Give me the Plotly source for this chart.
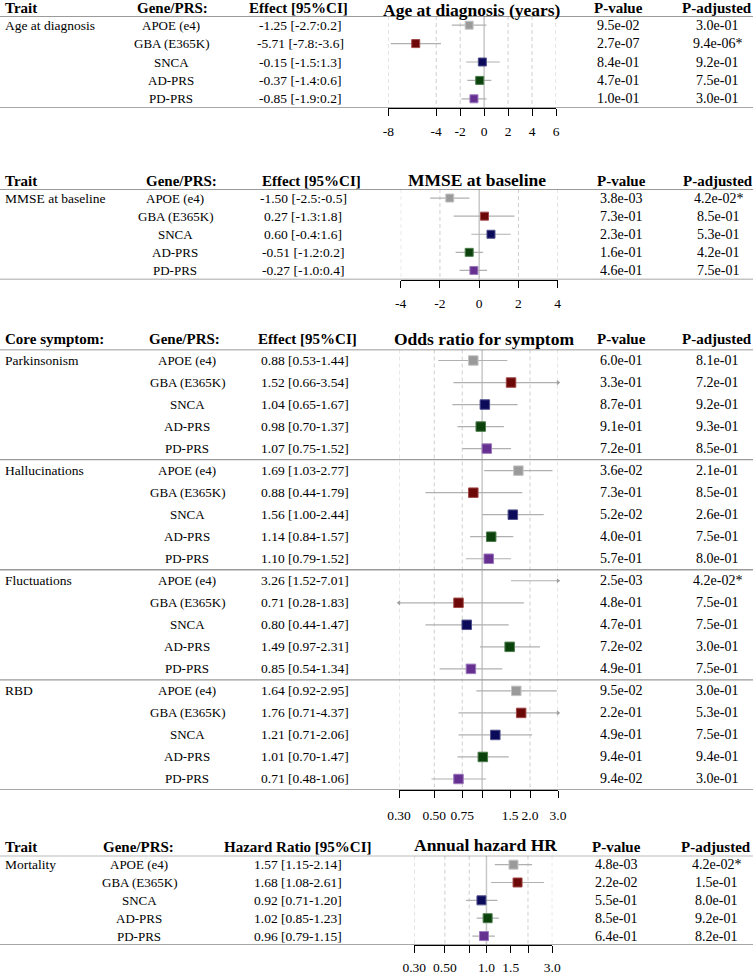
import math
import plotly.graph_objects as go

W, H = 753, 976
FONT = "Liberation Serif"

# ---------------- data ----------------
genes = ["APOE (e4)", "GBA (E365K)", "SNCA", "AD-PRS", "PD-PRS"]
gene_colors = ["#9a9a9a", "#6c0808", "#0b0b5a", "#0b420b", "#663090"]
gene_borders = ["#c4c4c4", "#a04848", "#50508c", "#4c7c4c", "#9c78bc"]

# Panel 1: Age at diagnosis (years)
age_est = [-1.25, -5.71, -0.15, -0.37, -0.85]
age_lo = [-2.7, -7.8, -1.5, -1.4, -1.9]
age_hi = [0.2, -3.6, 1.3, 0.6, 0.2]
age_p = ["9.5e-02", "2.7e-07", "8.4e-01", "4.7e-01", "1.0e-01"]
age_padj = ["3.0e-01", "9.4e-06*", "9.2e-01", "7.5e-01", "3.0e-01"]

# Panel 2: MMSE at baseline
mmse_est = [-1.50, 0.27, 0.60, -0.51, -0.27]
mmse_lo = [-2.5, -1.3, -0.4, -1.2, -1.0]
mmse_hi = [-0.5, 1.8, 1.6, 0.2, 0.4]
mmse_p = ["3.8e-03", "7.3e-01", "2.3e-01", "1.6e-01", "4.6e-01"]
mmse_padj = ["4.2e-02*", "8.5e-01", "5.3e-01", "4.2e-01", "7.5e-01"]

# Panel 3: Odds ratio for core symptoms
symptoms = ["Parkinsonism", "Hallucinations", "Fluctuations", "RBD"]
park_est = [0.88, 1.52, 1.04, 0.98, 1.07]
park_lo = [0.53, 0.66, 0.65, 0.70, 0.75]
park_hi = [1.44, 3.54, 1.67, 1.37, 1.52]
park_p = ["6.0e-01", "3.3e-01", "8.7e-01", "9.1e-01", "7.2e-01"]
park_padj = ["8.1e-01", "7.2e-01", "9.2e-01", "9.3e-01", "8.5e-01"]

hall_est = [1.69, 0.88, 1.56, 1.14, 1.10]
hall_lo = [1.03, 0.44, 1.00, 0.84, 0.79]
hall_hi = [2.77, 1.79, 2.44, 1.57, 1.52]
hall_p = ["3.6e-02", "7.3e-01", "5.2e-02", "4.0e-01", "5.7e-01"]
hall_padj = ["2.1e-01", "8.5e-01", "2.6e-01", "7.5e-01", "8.0e-01"]

fluc_est = [3.26, 0.71, 0.80, 1.49, 0.85]
fluc_lo = [1.52, 0.28, 0.44, 0.97, 0.54]
fluc_hi = [7.01, 1.83, 1.47, 2.31, 1.34]
fluc_p = ["2.5e-03", "4.8e-01", "4.7e-01", "7.2e-02", "4.9e-01"]
fluc_padj = ["4.2e-02*", "7.5e-01", "7.5e-01", "3.0e-01", "7.5e-01"]

rbd_est = [1.64, 1.76, 1.21, 1.01, 0.71]
rbd_lo = [0.92, 0.71, 0.71, 0.70, 0.48]
rbd_hi = [2.95, 4.37, 2.06, 1.47, 1.06]
rbd_p = ["9.5e-02", "2.2e-01", "4.9e-01", "9.4e-01", "9.4e-02"]
rbd_padj = ["3.0e-01", "5.3e-01", "7.5e-01", "9.4e-01", "3.0e-01"]

# Panel 4: Annual hazard HR (mortality)
mort_est = [1.57, 1.68, 0.92, 1.02, 0.96]
mort_lo = [1.15, 1.08, 0.71, 0.85, 0.79]
mort_hi = [2.14, 2.61, 1.20, 1.23, 1.15]
mort_p = ["4.8e-03", "2.2e-02", "5.5e-01", "8.5e-01", "6.4e-01"]
mort_padj = ["4.2e-02*", "1.5e-01", "8.0e-01", "9.2e-01", "8.2e-01"]

lin1_ticks = [-8, -4, -2, 0, 2, 4, 6]
lin1_grid = [-8, -4, -2, 2, 4, 6]
lin2_ticks = [-4, -2, 0, 2, 4]
lin2_grid = [-4, -2, 2, 4]
or_ticks = [0.30, 0.50, 0.75, 1.0, 1.5, 2.0, 3.0]
or_ticktext = ["0.30", "0.50", "0.75", "", "1.5", "2.0", "3.0"]
or_grid = [0.30, 0.50, 0.75, 2.0, 3.0]
hr_ticks = [0.30, 0.50, 0.75, 1.0, 1.5, 2.0, 3.0]
hr_ticktext = ["0.30", "0.50", "", "1.0", "1.5", "", "3.0"]
hr_grid = [0.30, 0.50, 0.75, 2.0, 3.0]


def fmt_lin(e, l, h):
    return f"{e:.2f} [{l:.1f}:{h:.1f}]"


def fmt_ratio(e, l, h):
    return f"{e:.2f} [{l:.2f}-{h:.2f}]"


panels = [
    dict(title="Age at diagnosis (years)", trait_hdr="Trait", eff_label="Effect [95%CI]",
         groups=[("Age at diagnosis", age_est, age_lo, age_hi, age_p, age_padj)],
         fmt=fmt_lin, log=False, ref=0, ticks=lin1_ticks, ticktext=[str(t) for t in lin1_ticks],
         grid=lin1_grid, rng=(-8, 6),
         top=16, bottom=108, x0=388.3, x1=556, hdr_y=8.5, title_y=9.5, title_x=472,
         gene_hdr=172, gene_x=171, eff_hdr=298, eff_x=300, p_x=618, padj_x=717,
         msize=8, standoff=4),
    dict(title="MMSE at baseline", trait_hdr="Trait", eff_label="Effect [95%CI]",
         groups=[("MMSE at baseline", mmse_est, mmse_lo, mmse_hi, mmse_p, mmse_padj)],
         fmt=fmt_lin, log=False, ref=0, ticks=lin2_ticks, ticktext=[str(t) for t in lin2_ticks],
         grid=lin2_grid, rng=(-4, 4),
         top=189, bottom=279.5, x0=400.7, x1=557.7, hdr_y=181, title_y=180.5, title_x=477,
         gene_hdr=181, gene_x=175, eff_hdr=311, eff_x=303, p_x=621, padj_x=718,
         msize=8, standoff=4),
    dict(title="Odds ratio for symptom", trait_hdr="Core symptom:", eff_label="Effect [95%CI]",
         groups=[(symptoms[0], park_est, park_lo, park_hi, park_p, park_padj),
                 (symptoms[1], hall_est, hall_lo, hall_hi, hall_p, hall_padj),
                 (symptoms[2], fluc_est, fluc_lo, fluc_hi, fluc_p, fluc_padj),
                 (symptoms[3], rbd_est, rbd_lo, rbd_hi, rbd_p, rbd_padj)],
         fmt=fmt_ratio, log=True, ref=1, ticks=or_ticks, ticktext=or_ticktext,
         grid=or_grid, rng=(0.3, 3.0),
         top=349.5, bottom=790, x0=399, x1=558, hdr_y=339.5, title_y=339.5, title_x=484,
         gene_hdr=184, gene_x=187, eff_hdr=307.5, eff_x=305, p_x=621, padj_x=717,
         msize=9.5, standoff=6),
    dict(title="Annual hazard HR", trait_hdr="Trait", eff_label="Hazard Ratio [95%CI]",
         groups=[("Mortality", mort_est, mort_lo, mort_hi, mort_p, mort_padj)],
         fmt=fmt_ratio, log=True, ref=1, ticks=hr_ticks, ticktext=hr_ticktext,
         grid=hr_grid, rng=(0.3, 3.0),
         top=855.7, bottom=945, x0=414.3, x1=552.3, hdr_y=846.5, title_y=844.5, title_x=485,
         gene_hdr=138, gene_x=139, eff_hdr=297, eff_x=297.5, p_x=616, padj_x=716,
         msize=9, standoff=3),
]


def px(x):
    return x / W


def py(y):
    return 1 - y / H


fig = go.Figure()
annotations = []
shapes = []

ROW_FONT = dict(family=FONT, size=13.5, color="black")
P_FONT = dict(family=FONT, size=14, color="black")
GENE_FONT = dict(family=FONT, size=13, color="black")
HDR_FONT = dict(family=FONT, size=15, color="black")
TITLE_FONT = dict(family=FONT, size=17.5, color="black")

for i, P in enumerate(panels, start=1):
    sfx = "" if i == 1 else str(i)
    xa, ya = "x" + sfx, "y" + sfx
    est, lo, hi, pv, pa, cols, borders, gnames = [], [], [], [], [], [], [], []
    trait_rows = []
    for (trait, e, l, h, p, a) in P["groups"]:
        trait_rows.append((trait, len(est)))
        for k in range(len(e)):
            est.append(e[k]); lo.append(l[k]); hi.append(h[k])
            pv.append(p[k]); pa.append(a[k])
            cols.append(gene_colors[k]); borders.append(gene_borders[k])
            gnames.append(genes[k])
    n = len(est)
    rows = list(range(n))
    xmin, xmax = P["rng"]

    # dashed grid lines (not at reference value / 1.5)
    gx, gy = [], []
    for g in P["grid"]:
        gx += [g, g, None]
        gy += [-0.5, n - 0.5, None]
    fig.add_trace(go.Scatter(x=gx, y=gy, mode="lines",
                             line=dict(color="#cfcfcf", width=1, dash="4px,3px"),
                             xaxis=xa, yaxis=ya, hoverinfo="skip", showlegend=False))
    # reference line (0 or 1)
    fig.add_trace(go.Scatter(x=[P["ref"], P["ref"]], y=[-0.5, n - 0.5], mode="lines",
                             line=dict(color="#c8c8c8", width=1.5), xaxis=xa, yaxis=ya,
                             hoverinfo="skip", showlegend=False))
    # CI lines
    lx, ly = [], []
    for r in rows:
        lx += [lo[r], hi[r], None]
        ly += [r, r, None]
    fig.add_trace(go.Scatter(x=lx, y=ly, mode="lines", line=dict(color="#b0b0b0", width=1.2),
                             xaxis=xa, yaxis=ya, hoverinfo="skip", showlegend=False))
    # arrows for clipped CIs
    ax_, ay_, asym = [], [], []
    for r in rows:
        if hi[r] > xmax:
            ax_.append(xmax); ay_.append(r); asym.append("triangle-right")
        if lo[r] < xmin:
            ax_.append(xmin); ay_.append(r); asym.append("triangle-left")
    if ax_:
        fig.add_trace(go.Scatter(x=ax_, y=ay_, mode="markers",
                                 marker=dict(symbol=asym, size=4.5, color="#a0a0a0"),
                                 cliponaxis=False, xaxis=xa, yaxis=ya, hoverinfo="skip",
                                 showlegend=False))
    # point estimates
    fig.add_trace(go.Scatter(x=est, y=rows, mode="markers",
                             marker=dict(symbol="square", size=P["msize"], color=cols,
                                         line=dict(color=borders, width=1)),
                             xaxis=xa, yaxis=ya, text=gnames, showlegend=False))

    if P["log"]:
        xr = [math.log10(xmin), math.log10(xmax)]
    else:
        xr = [xmin, xmax]
    fig.update_layout({
        "xaxis" + sfx: dict(domain=[px(P["x0"]), px(P["x1"])], range=xr,
                            type="log" if P["log"] else "linear", anchor=ya,
                            tickmode="array", tickvals=P["ticks"], ticktext=P["ticktext"],
                            showgrid=False, zeroline=False,
                            showline=True, linecolor="black", linewidth=1,
                            ticks="outside", ticklen=7, tickwidth=1, tickcolor="black",
                            tickfont=dict(family=FONT, size=13.5, color="black"),
                            ticklabelstandoff=P["standoff"], automargin=False,
                            fixedrange=True),
        "yaxis" + sfx: dict(domain=[py(P["bottom"]), py(P["top"])], range=[n - 0.5, -0.5],
                            visible=False, anchor=xa, automargin=False, fixedrange=True),
    })

    # horizontal rules
    shapes.append(dict(type="line", xref="paper", yref=ya, x0=0, x1=1, y0=-0.5, y1=-0.5,
                       line=dict(color="#7a7a7a", width=1.3)))
    shapes.append(dict(type="line", xref="paper", yref=ya, x0=0, x1=1, y0=n - 0.5, y1=n - 0.5,
                       line=dict(color="#8a8a8a", width=1.6)))
    for (_, start) in trait_rows[1:]:
        shapes.append(dict(type="line", xref="paper", yref=ya, x0=0, x1=1,
                           y0=start - 0.5, y1=start - 0.5,
                           line=dict(color="#9a9a9a", width=1.3)))

    # headers
    hy = py(P["hdr_y"])
    hdrs = [(P["trait_hdr"], 3, "left", HDR_FONT, hy),
            ("Gene/PRS:", P["gene_hdr"], "center", HDR_FONT, hy),
            (P["eff_label"], P["eff_hdr"], "center", HDR_FONT, hy),
            (P["title"], P["title_x"], "center", TITLE_FONT, py(P["title_y"])),
            ("P-value", P["p_x"], "center", HDR_FONT, hy),
            ("P-adjusted", P["padj_x"], "center", HDR_FONT, hy)]
    for (txt, x, anc, f, yy) in hdrs:
        annotations.append(dict(text=f"<b>{txt}</b>", x=px(x), y=yy, xref="paper", yref="paper",
                                xanchor=anc, yanchor="middle", showarrow=False, font=f))
    # trait labels
    for (trait, start) in trait_rows:
        annotations.append(dict(text=trait, x=px(3), y=start, xref="paper", yref=ya,
                                xanchor="left", yanchor="middle", showarrow=False, font=ROW_FONT))
    # row cells
    for r in rows:
        cells = [(gnames[r], P["gene_x"], GENE_FONT),
                 (P["fmt"](est[r], lo[r], hi[r]), P["eff_x"], ROW_FONT),
                 (pv[r], P["p_x"], P_FONT), (pa[r], P["padj_x"], P_FONT)]
        for (txt, x, f) in cells:
            annotations.append(dict(text=txt, x=px(x), y=r, xref="paper", yref=ya,
                                    xanchor="center", yanchor="middle", showarrow=False, font=f))

fig.update_layout(width=W, height=H,
                  margin=dict(l=0, r=0, t=0, b=0, pad=0, autoexpand=False),
                  paper_bgcolor="white", plot_bgcolor="white", showlegend=False,
                  annotations=annotations, shapes=shapes,
                  font=dict(family=FONT, color="black"))

fig.write_html("out.html", config={"displayModeBar": False},
               post_script="document.body.style.margin='0';document.body.style.overflow='hidden';")
